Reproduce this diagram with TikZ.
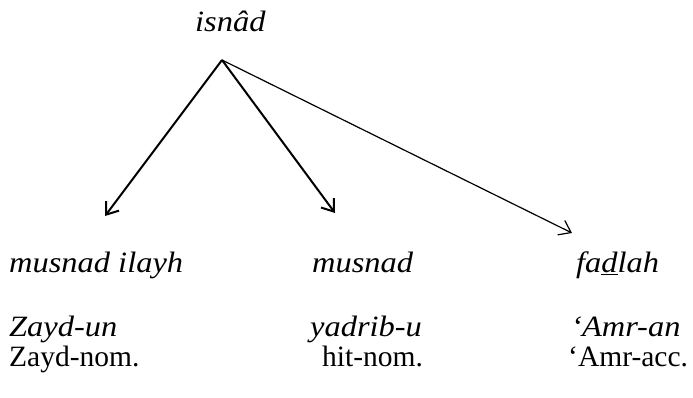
\documentclass[tikz,border=0pt]{standalone}
\usepackage{fontspec}
\setmainfont{Liberation Serif}[ItalicFeatures={FakeStretch=1.1}]
\usepackage{tikz}
\usetikzlibrary{positioning, arrows.meta}

\begin{document}
\begin{tikzpicture}[x=1pt, y=-1pt,
    word/.style={anchor=base west, inner sep=0pt, font=\fontsize{29.5}{35}\selectfont},
    branch/.style={-{Straight Barb[length=11pt, width=16pt]}, line width=2pt}]
    \useasboundingbox (0,0) rectangle (693,398);

    % Root
    \node[word] (isnad) at (195,32) {\textit{isnâd}};
    \coordinate (apex) at (222,60);

    % Branch ends
    \coordinate (endA) at (105,216);
    \coordinate (endB) at (335,213);
    \coordinate (endC) at (572,233);
    \draw[branch] (apex) -- (endA);
    \draw[branch] (apex) -- (endB);
    \draw[branch, line width=1.2pt] (apex) -- (endC);

    % Categories
    \node[word] (mi) at (9,272) {\textit{musnad ilayh}};
    \node[word] (mu) at (312,272) {\textit{musnad}};
    \node[word] (fa) at (576,272) {\textit{fa\underline{d}lah}};

    % Words and glosses
    \node[word] (zi) at (9,336) {\textit{Zayd-un}};
    \node[word] (yi) at (310,336) {\textit{yadrib-u}};
    \node[word] (ai) at (571,336) {\textit{‘Amr-an}};
    \node[word] (zg) at (9,366) {Zayd-nom.};
    \node[word] (yg) at (322,366) {hit-nom.};
    \node[word] (ag) at (568,366) {‘Amr-acc.};
\end{tikzpicture}
\end{document}
